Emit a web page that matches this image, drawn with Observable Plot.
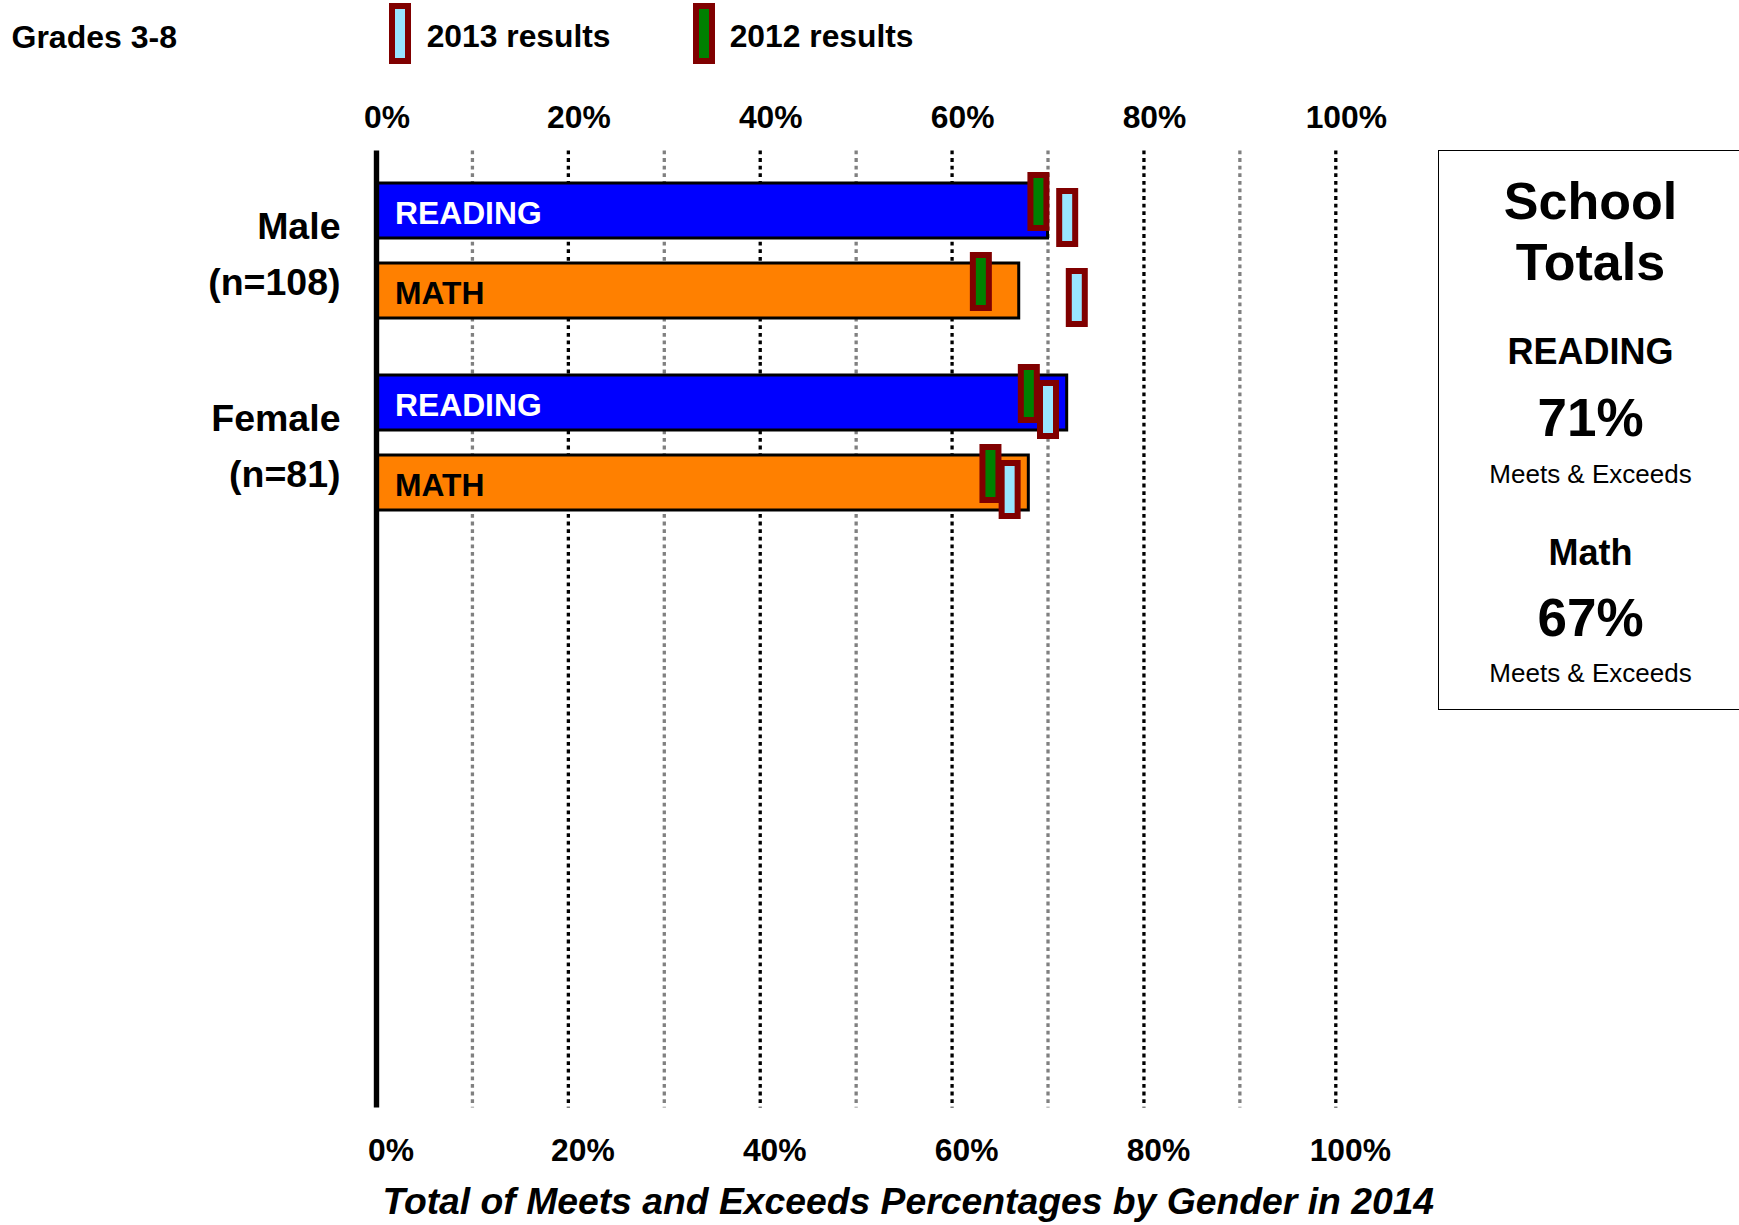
<!DOCTYPE html>
<html>
<head>
<meta charset="utf-8">
<script src="https://cdn.jsdelivr.net/npm/d3@7"></script>
<script src="https://cdn.jsdelivr.net/npm/@observablehq/plot@0.6"></script>
<style>
  body { margin: 0; background: #fff; }
  #page { position: relative; width: 1739px; height: 1225px; overflow: hidden;
          font-family: "Liberation Sans", Arial, Helvetica, sans-serif; color: #000; }
  .t { position: absolute; white-space: nowrap; line-height: 1; }
  .b { font-weight: bold; }
  .mk { position: absolute; box-sizing: border-box; width: 22px; height: 61px; border: 6px solid #800000; }
  #panel { position: absolute; left: 1438px; top: 150px; width: 400px; height: 560px;
           box-sizing: border-box; border: 1.5px solid #000; }
  .pc { position: absolute; left: 1440px; width: 301px; text-align: center; white-space: nowrap; line-height: 1; }
  #chart { position: absolute; left: 0; top: 80px; }
</style>
</head>
<body>
<div id="page">
  <div class="t b" style="left:11.5px;top:21.2px;font-size:32px;">Grades 3-8</div>
  <div id="legend"></div>
  <div id="panel"></div>
  <div id="panelText"></div>
  <div id="chart"></div>
  <div class="t b" id="caption" style="left:382.5px;top:1183px;font-size:37.3px;font-style:italic;"></div>
</div>
<script>
// ---- data ----
const genders = ["Male", "Female"];
const genderCounts = [108, 81];
const subjects = ["READING", "MATH"];
const reading2014 = [70, 72];   // Male, Female
const math2014 = [67, 68];
const reading2013 = [72, 70];
const math2013 = [73, 66];
const reading2012 = [69, 68];
const math2012 = [63, 64];
const tickValues = [0, 20, 40, 60, 80, 100];
const majorGrid = [20, 40, 60, 80, 100];
const minorGrid = [10, 30, 50, 70, 90];
const legendLabels = ["2013 results", "2012 results"];
const totalSubjects = ["READING", "Math"];
const totalValues = [71, 67];
const totalNote = "Meets & Exceeds";
const captionText = "Total of Meets and Exceeds Percentages by Gender in 2014";

const subjectColors = ["#0000ff", "#ff8000"];
const cyan = "#99e5ff", green = "#008000", maroon = "#800000";
const FONT = "'Liberation Sans', Arial, Helvetica, sans-serif";

// ---- table ----
const rows = [];
genders.forEach((g, i) => {
  rows.push({gender: g, subject: "READING", v2014: reading2014[i], v2013: reading2013[i], v2012: reading2012[i]});
  rows.push({gender: g, subject: "MATH", v2014: math2014[i], v2013: math2013[i], v2012: math2012[i]});
});
const genderRows = genders.map((g, i) => ({gender: g, label: `${g}\n(n=${genderCounts[i]})`}));

// ---- header legend ----
const legend = document.getElementById("legend");
[[389, 426.7, cyan], [693.3, 729.7, green]].forEach(([mx, tx, col], i) => {
  const m = document.createElement("div");
  m.className = "mk";
  m.style.left = mx + "px"; m.style.top = "3.3px"; m.style.background = col;
  legend.appendChild(m);
  const t = document.createElement("div");
  t.className = "t b";
  t.style.left = tx + "px"; t.style.top = "20.8px"; t.style.fontSize = "31.8px";
  t.textContent = legendLabels[i];
  legend.appendChild(t);
});

// ---- right panel ----
const pt = document.getElementById("panelText");
const panelLines = [
  ["School", 52, "bold", 175.3],
  ["Totals", 52, "bold", 236.3],
  [totalSubjects[0], 36, "bold", 333.9],
  [totalValues[0] + "%", 53, "bold", 391.1],
  [totalNote, 26, "normal", 460.8],
  [totalSubjects[1], 36, "bold", 534.7],
  [totalValues[1] + "%", 53, "bold", 590.7],
  [totalNote, 26, "normal", 660.3]
];
panelLines.forEach(([txt, fs, fw, top]) => {
  const d = document.createElement("div");
  d.className = "pc";
  d.style.top = top + "px"; d.style.fontSize = fs + "px"; d.style.fontWeight = fw;
  d.textContent = txt;
  pt.appendChild(d);
});
document.getElementById("caption").textContent = captionText;

// ---- chart ----
// facet frames: Male 89.5..251.5, Female 282.5..444.5 ; plot frame 70..1029
const topFacet = genders[0], bottomFacet = genders[genders.length - 1];
const upperExt = {fy: () => topFacet, insetTop: -19.5, insetBottom: -31};
const lowerExt = {fy: () => bottomFacet, insetTop: 0, insetBottom: -584.5};
const gridMarks = [];
[upperExt, lowerExt].forEach(ext => {
  gridMarks.push(Plot.ruleX(minorGrid, {x: d => d, ...ext, stroke: "#808080", strokeWidth: 3.3, strokeDasharray: "3.8,3.8"}));
  gridMarks.push(Plot.ruleX(majorGrid, {x: d => d, ...ext, stroke: "#000", strokeWidth: 3.3, strokeDasharray: "3.8,3.8"}));
});
const axisMarks = [upperExt, lowerExt].map(ext => Plot.ruleX([0], {x: d => d, ...ext, stroke: "#000", strokeWidth: 5.4}));

const common = {y: "subject", fy: "gender"};
const chart = Plot.plot({
  width: 1739,
  height: 1100,
  marginTop: 70,
  marginBottom: 71,
  marginLeft: 376,
  marginRight: 403.7,
  style: {fontFamily: FONT, background: "transparent", overflow: "visible"},
  x: {domain: [0, 100], axis: null},
  y: {domain: subjects, axis: null, paddingInner: 0.3086, paddingOuter: 0.1543},
  fy: {domain: genders, axis: null, range: [89.5, 444.5], paddingInner: 0.1606, paddingOuter: 0},
  color: {domain: subjects, range: subjectColors},
  marks: [
    ...gridMarks,
    Plot.text(tickValues, {x: d => d, text: d => d + "%", fy: () => topFacet, frameAnchor: "top", lineAnchor: "bottom",
      dy: -42.8, dx: 10.5, fontSize: 31.8, fontWeight: "bold", fill: "#000"}),
    Plot.text(tickValues, {x: d => d, text: d => d + "%", fy: () => bottomFacet, frameAnchor: "bottom", lineAnchor: "bottom",
      dy: 637.5, dx: 14.5, fontSize: 31.8, fontWeight: "bold", fill: "#000"}),
    Plot.barX(rows, {...common, x: "v2014", fill: "subject", stroke: "#000", strokeWidth: 3}),
    Plot.text(rows, {...common, filter: d => d.subject === "READING", text: "subject", frameAnchor: "left",
      textAnchor: "start", dx: 18.5, dy: 3, fill: "#fff", fontSize: 31.8, fontWeight: "bold"}),
    Plot.text(rows, {...common, filter: d => d.subject === "MATH", text: "subject", frameAnchor: "left",
      textAnchor: "start", dx: 18.5, dy: 3, fill: "#000", fontSize: 31.8, fontWeight: "bold"}),
    // 2012 markers
    Plot.tickX(rows, {...common, x: "v2012", stroke: maroon, strokeWidth: 22, insetTop: -11, insetBottom: 7}),
    Plot.tickX(rows, {...common, x: "v2012", stroke: green, strokeWidth: 10, insetTop: -5, insetBottom: 13}),
    // 2013 markers
    Plot.tickX(rows, {...common, x: "v2013", stroke: maroon, strokeWidth: 22, insetTop: 5, insetBottom: -9}),
    Plot.tickX(rows, {...common, x: "v2013", stroke: cyan, strokeWidth: 10, insetTop: 11, insetBottom: -3}),
    ...axisMarks,
    // gender labels
    Plot.text(genderRows, {fy: "gender", text: "label", frameAnchor: "left", textAnchor: "end", lineAnchor: "middle",
      lineHeight: 1.51, dx: -36, dy: -2, fontSize: 37.5, fontWeight: "bold", fill: "#000"})
  ]
});
document.getElementById("chart").appendChild(chart);
</script>
</body>
</html>
